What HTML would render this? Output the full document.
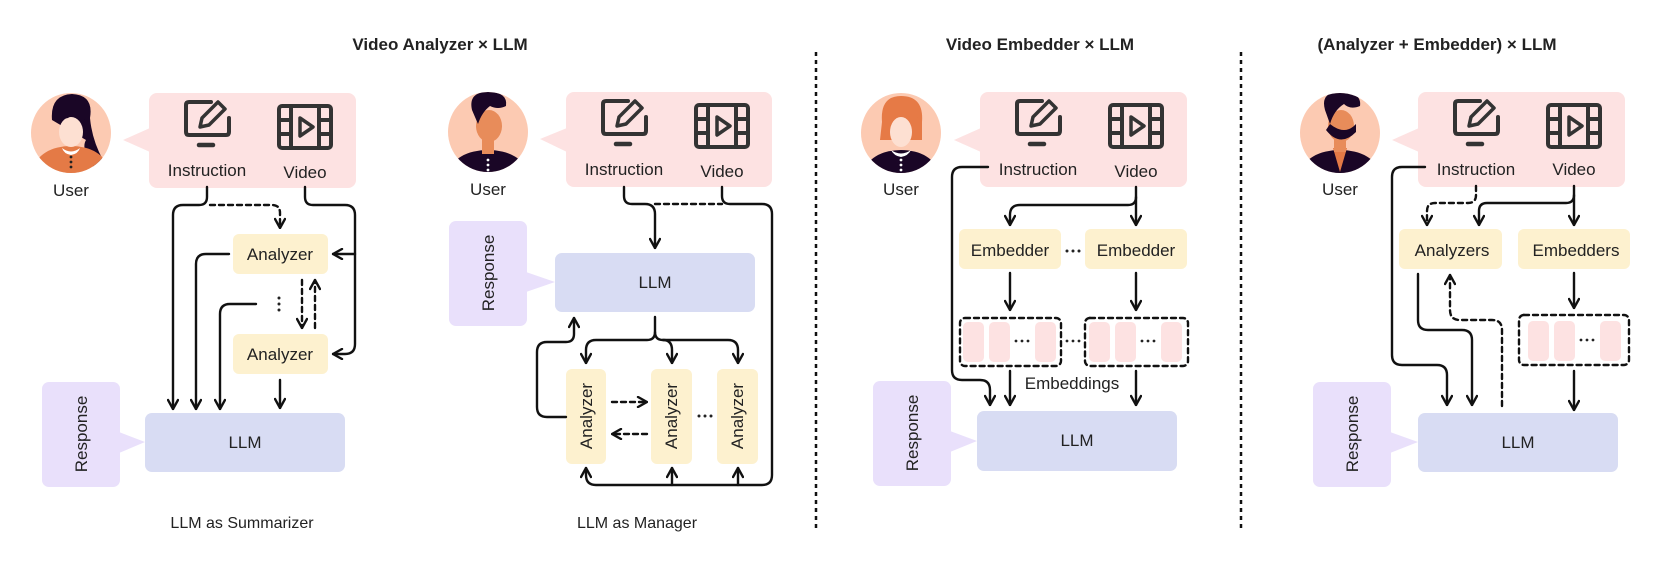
<!DOCTYPE html>
<html><head><meta charset="utf-8">
<style>
html,body{margin:0;padding:0;background:#fff;}
svg{display:block;}
text{font-family:"Liberation Sans",sans-serif;fill:#222;}
</style></head>
<body>
<svg width="1661" height="565" viewBox="0 0 1661 565" xmlns="http://www.w3.org/2000/svg">
<defs>
<marker id="a" viewBox="0 0 12 12" refX="11" refY="6" markerWidth="12" markerHeight="12" markerUnits="userSpaceOnUse" orient="auto">
<path d="M2,1 L11,6 L2,11" fill="none" stroke="#111" stroke-width="2.4" stroke-linecap="round" stroke-linejoin="round"/>
</marker>
<g id="ins" fill="none" stroke="#333" stroke-width="4" stroke-linecap="round" stroke-linejoin="round">
<path d="M4,-20 H-18 Q-21,-20 -21,-17 V10 Q-21,13 -18,13 H19 Q22,13 22,10 V-4"/>
<path d="M-7,5 L-5,-4 L11,-20 L18,-13 L2,3 Z" stroke-width="3.5"/>
<path d="M-8,23 H6" stroke-width="4.5"/>
</g>
<g id="vid" fill="none" stroke="#333" stroke-width="4" stroke-linejoin="round">
<rect x="-26" y="-21" width="52" height="42" rx="3"/>
<path d="M-14,-21 V21 M14,-21 V21 M-26,-7 H-14 M-26,7 H-14 M14,-7 H26 M14,7 H26"/>
<path d="M-5,-9 L8,0 L-5,9 Z" stroke-width="3.5"/>
</g>
<clipPath id="c1"><circle cx="71" cy="133" r="40"/></clipPath>
<clipPath id="c2"><circle cx="488" cy="132" r="40"/></clipPath>
<clipPath id="c3"><circle cx="901" cy="133" r="40"/></clipPath>
<clipPath id="c4"><circle cx="1340" cy="133" r="40"/></clipPath>
</defs>

<text x="440" y="50" font-size="17" font-weight="bold" text-anchor="middle">Video Analyzer × LLM</text>
<text x="1040" y="50" font-size="17" font-weight="bold" text-anchor="middle">Video Embedder × LLM</text>
<text x="1437" y="50" font-size="17" font-weight="bold" text-anchor="middle">(Analyzer + Embedder) × LLM</text>

<line x1="816" y1="52" x2="816" y2="530" stroke="#111" stroke-width="2.5" stroke-dasharray="4,4"/>
<line x1="1241" y1="52" x2="1241" y2="530" stroke="#111" stroke-width="2.5" stroke-dasharray="4,4"/>

<g stroke-linecap="round">
<!-- PANEL 1 -->
<circle cx="71" cy="133" r="40" fill="#fccab2"/>
<g clip-path="url(#c1)">
<path d="M52,120 Q50,95 72,94 Q94,95 90,118 Q92,140 103,160 L96,170 Q80,150 86,140 Z" fill="#1a0626"/>
<ellipse cx="71" cy="168" rx="36" ry="22" fill="#e47a46"/>
<ellipse cx="71" cy="132" rx="12" ry="15" fill="#fde0d2"/>
<path d="M55,105 Q70,92 87,108 L88,122 Q76,112 68,118 L58,120 Z" fill="#1a0626"/>
<path d="M62,148 Q71,155 80,148 Q78,154 71,155 Q64,154 62,148Z" fill="#fff"/>
<circle cx="71" cy="157" r="1.4" fill="#222"/><circle cx="71" cy="162" r="1.4" fill="#222"/><circle cx="71" cy="167" r="1.4" fill="#222"/>
</g>
<text x="71" y="196" font-size="17" text-anchor="middle">User</text>
<rect x="149" y="93" width="207" height="95" rx="8" fill="#fde2e2"/>
<path d="M150,128 L123,140 L150,152 Z" fill="#fde2e2"/>
<use href="#ins" x="207" y="122"/>
<use href="#vid" x="305" y="127"/>
<text x="207" y="176" font-size="17" text-anchor="middle">Instruction</text>
<text x="305" y="178" font-size="17" text-anchor="middle">Video</text>
<rect x="233" y="234" width="95" height="40" rx="6" fill="#fdf1cf"/>
<text x="280" y="260" font-size="17" text-anchor="middle">Analyzer</text>
<rect x="233" y="334" width="95" height="40" rx="6" fill="#fdf1cf"/>
<text x="280" y="360" font-size="17" text-anchor="middle">Analyzer</text>
<rect x="145" y="413" width="200" height="59" rx="7" fill="#d8dcf3"/>
<text x="245" y="448" font-size="17" text-anchor="middle">LLM</text>
<rect x="42" y="382" width="78" height="105" rx="7" fill="#e9e0fb"/>
<path d="M119,432 L145,442 L119,453 Z" fill="#e9e0fb"/>
<text transform="translate(87,434) rotate(-90)" font-size="17" text-anchor="middle">Response</text>
<g fill="none" stroke="#111" stroke-width="2.4">
<path d="M207,187 V197 Q207,205 199,205 H183 Q173,205 173,215 V409" marker-end="url(#a)"/>
<path d="M210,205 H272 Q280,205 280,213 V228" stroke-dasharray="5,4" marker-end="url(#a)"/>
<path d="M305,187 V197 Q305,205 313,205 H345 Q355,205 355,215 V344 Q355,354 345,354 H333" marker-end="url(#a)"/>
<path d="M355,254 H333" marker-end="url(#a)"/>
<path d="M229,254 H206 Q196,254 196,264 V409" marker-end="url(#a)"/>
<path d="M256,304 H230 Q220,304 220,314 V409" marker-end="url(#a)"/>
<path d="M280,380 V408" marker-end="url(#a)"/>
<path d="M302,280 V328" stroke-dasharray="5,4" marker-end="url(#a)"/>
<path d="M315,328 V280" stroke-dasharray="5,4" marker-end="url(#a)"/>
</g>
<circle cx="279" cy="298" r="1.5" fill="#222"/><circle cx="279" cy="304" r="1.5" fill="#222"/><circle cx="279" cy="310" r="1.5" fill="#222"/>
<text x="242" y="528" font-size="16" text-anchor="middle">LLM as Summarizer</text>

<!-- PANEL 2 -->
<circle cx="488" cy="132" r="40" fill="#fccab2"/>
<g clip-path="url(#c2)">
<ellipse cx="488" cy="172" rx="38" ry="22" fill="#1a0626"/>
<rect x="482" y="138" width="12" height="16" fill="#e88c5a"/>
<ellipse cx="489" cy="126" rx="13" ry="16" fill="#e88c5a"/>
<path d="M472,110 Q468,92 488,92 Q508,92 506,106 Q498,110 490,106 Q482,112 478,124 Z" fill="#1a0626"/>
<circle cx="488" cy="160" r="1.4" fill="#fff"/><circle cx="488" cy="165" r="1.4" fill="#fff"/><circle cx="488" cy="170" r="1.4" fill="#fff"/>
</g>
<text x="488" y="195" font-size="17" text-anchor="middle">User</text>
<rect x="566" y="92" width="206" height="95" rx="8" fill="#fde2e2"/>
<path d="M567,128 L540,139 L567,152 Z" fill="#fde2e2"/>
<use href="#ins" x="624" y="121"/>
<use href="#vid" x="722" y="126"/>
<text x="624" y="175" font-size="17" text-anchor="middle">Instruction</text>
<text x="722" y="177" font-size="17" text-anchor="middle">Video</text>
<rect x="449" y="221" width="78" height="105" rx="7" fill="#e9e0fb"/>
<path d="M526,272 L555,282 L526,292 Z" fill="#e9e0fb"/>
<text transform="translate(494,273) rotate(-90)" font-size="17" text-anchor="middle">Response</text>
<rect x="555" y="253" width="200" height="59" rx="7" fill="#d8dcf3"/>
<text x="655" y="288" font-size="17" text-anchor="middle">LLM</text>
<rect x="566" y="369" width="40" height="95" rx="6" fill="#fdf1cf"/>
<rect x="651" y="369" width="41" height="95" rx="6" fill="#fdf1cf"/>
<rect x="717" y="369" width="41" height="95" rx="6" fill="#fdf1cf"/>
<text transform="translate(592,416) rotate(-90)" font-size="17" text-anchor="middle">Analyzer</text>
<text transform="translate(677,416) rotate(-90)" font-size="17" text-anchor="middle">Analyzer</text>
<text transform="translate(743,416) rotate(-90)" font-size="17" text-anchor="middle">Analyzer</text>
<g fill="none" stroke="#111" stroke-width="2.4">
<path d="M624,187 V196 Q624,204 632,204 H645 Q655,204 655,214 V248" marker-end="url(#a)"/>
<path d="M655,204 H722" stroke-dasharray="5,4"/>
<path d="M722,187 V196 Q722,204 730,204 H762 Q772,204 772,214 V475 Q772,485 762,485 H596 Q586,485 586,475 V468" marker-end="url(#a)"/>
<path d="M672,485 V468" marker-end="url(#a)"/>
<path d="M738,485 V468" marker-end="url(#a)"/>
<path d="M655,317 V332 Q655,340 647,340 H596 Q586,340 586,350 V363" marker-end="url(#a)"/>
<path d="M655,332 Q655,340 663,340 Q672,340 672,350 V363" marker-end="url(#a)"/>
<path d="M663,340 H728 Q738,340 738,350 V363" marker-end="url(#a)"/>
<path d="M566,417 H547 Q537,417 537,407 V352 Q537,342 547,342 H566 Q574,342 574,334 V318" marker-end="url(#a)"/>
<path d="M612,402 H647" stroke-dasharray="5,4" marker-end="url(#a)"/>
<path d="M647,434 H612" stroke-dasharray="5,4" marker-end="url(#a)"/>
</g>
<circle cx="699" cy="416" r="1.5" fill="#222"/><circle cx="705" cy="416" r="1.5" fill="#222"/><circle cx="711" cy="416" r="1.5" fill="#222"/>
<text x="637" y="528" font-size="16" text-anchor="middle">LLM as Manager</text>

<!-- PANEL 3 -->
<circle cx="901" cy="133" r="40" fill="#fccab2"/>
<g clip-path="url(#c3)">
<ellipse cx="901" cy="172" rx="36" ry="22" fill="#1a0626"/>
<path d="M882,122 Q880,96 901,96 Q924,96 922,122 L922,140 L880,140 Z" fill="#e67a46"/>
<ellipse cx="901" cy="132" rx="11" ry="15" fill="#fde0d2"/>
<path d="M886,110 Q900,96 918,110 L918,118 Q905,108 886,118 Z" fill="#e67a46"/>
<path d="M891,150 Q901,157 911,150 Q908,156 901,157 Q894,156 891,150Z" fill="#fff"/>
<circle cx="901" cy="160" r="1.4" fill="#fff"/><circle cx="901" cy="165" r="1.4" fill="#fff"/><circle cx="901" cy="170" r="1.4" fill="#fff"/>
</g>
<text x="901" y="195" font-size="17" text-anchor="middle">User</text>
<rect x="980" y="92" width="207" height="95" rx="8" fill="#fde2e2"/>
<path d="M981,128 L954,140 L981,152 Z" fill="#fde2e2"/>
<use href="#ins" x="1038" y="121"/>
<use href="#vid" x="1136" y="126"/>
<text x="1038" y="175" font-size="17" text-anchor="middle">Instruction</text>
<text x="1136" y="177" font-size="17" text-anchor="middle">Video</text>
<rect x="959" y="229" width="102" height="40" rx="6" fill="#fdf1cf"/>
<rect x="1085" y="229" width="102" height="40" rx="6" fill="#fdf1cf"/>
<text x="1010" y="256" font-size="17" text-anchor="middle">Embedder</text>
<text x="1136" y="256" font-size="17" text-anchor="middle">Embedder</text>
<circle cx="1067" cy="251" r="1.5" fill="#222"/><circle cx="1073" cy="251" r="1.5" fill="#222"/><circle cx="1079" cy="251" r="1.5" fill="#222"/>
<g fill="#fde2e2">
<rect x="963" y="322" width="21" height="40" rx="5"/><rect x="989" y="322" width="21" height="40" rx="5"/><rect x="1035" y="322" width="21" height="40" rx="5"/>
<rect x="1089" y="322" width="21" height="40" rx="5"/><rect x="1115" y="322" width="21" height="40" rx="5"/><rect x="1161" y="322" width="21" height="40" rx="5"/>
</g>
<g fill="none" stroke="#111" stroke-width="2.4" stroke-dasharray="5,4">
<rect x="960" y="318" width="101" height="48" rx="5"/>
<rect x="1085" y="318" width="103" height="48" rx="5"/>
</g>
<g fill="#222">
<circle cx="1016" cy="341" r="1.4"/><circle cx="1022" cy="341" r="1.4"/><circle cx="1028" cy="341" r="1.4"/>
<circle cx="1067" cy="341" r="1.4"/><circle cx="1073" cy="341" r="1.4"/><circle cx="1079" cy="341" r="1.4"/>
<circle cx="1142" cy="341" r="1.4"/><circle cx="1148" cy="341" r="1.4"/><circle cx="1154" cy="341" r="1.4"/>
</g>
<text x="1072" y="389" font-size="17" text-anchor="middle">Embeddings</text>
<rect x="977" y="411" width="200" height="60" rx="7" fill="#d8dcf3"/>
<text x="1077" y="446" font-size="17" text-anchor="middle">LLM</text>
<rect x="873" y="381" width="78" height="105" rx="7" fill="#e9e0fb"/>
<path d="M950,431 L977,441 L950,452 Z" fill="#e9e0fb"/>
<text transform="translate(918,433) rotate(-90)" font-size="17" text-anchor="middle">Response</text>
<g fill="none" stroke="#111" stroke-width="2.4">
<path d="M988,167 H962 Q952,167 952,177 V370 Q952,380 962,380 H980 Q990,380 990,390 V405" marker-end="url(#a)"/>
<path d="M1136,187 V225" marker-end="url(#a)"/>
<path d="M1136,197 Q1136,205 1128,205 H1020 Q1010,205 1010,215 V225" marker-end="url(#a)"/>
<path d="M1010,273 V310" marker-end="url(#a)"/>
<path d="M1136,273 V310" marker-end="url(#a)"/>
<path d="M1010,371 V405" marker-end="url(#a)"/>
<path d="M1136,371 V405" marker-end="url(#a)"/>
</g>

<!-- PANEL 4 -->
<circle cx="1340" cy="133" r="40" fill="#fccab2"/>
<g clip-path="url(#c4)">
<ellipse cx="1340" cy="172" rx="38" ry="22" fill="#1a0626"/>
<path d="M1333,148 L1340,172 L1347,148 Z" fill="#e47a46"/>
<rect x="1334" y="138" width="12" height="14" fill="#e88c5a"/>
<ellipse cx="1341" cy="126" rx="13" ry="16" fill="#e88c5a"/>
<path d="M1326,130 Q1340,148 1356,132 L1356,124 Q1345,136 1330,124 Z" fill="#1a0626"/>
<path d="M1325,110 Q1320,92 1340,92 Q1362,92 1360,106 Q1350,110 1344,104 Q1334,110 1330,124 Z" fill="#1a0626"/>
</g>
<text x="1340" y="195" font-size="17" text-anchor="middle">User</text>
<rect x="1418" y="92" width="207" height="95" rx="8" fill="#fde2e2"/>
<path d="M1419,128 L1392,140 L1419,152 Z" fill="#fde2e2"/>
<use href="#ins" x="1476" y="121"/>
<use href="#vid" x="1574" y="126"/>
<text x="1476" y="175" font-size="17" text-anchor="middle">Instruction</text>
<text x="1574" y="175" font-size="17" text-anchor="middle">Video</text>
<rect x="1399" y="229" width="103" height="40" rx="6" fill="#fdf1cf"/>
<rect x="1518" y="229" width="112" height="40" rx="6" fill="#fdf1cf"/>
<text x="1452" y="256" font-size="17" text-anchor="middle">Analyzers</text>
<text x="1576" y="256" font-size="17" text-anchor="middle">Embedders</text>
<g fill="#fde2e2">
<rect x="1528" y="321" width="21" height="40" rx="5"/><rect x="1554" y="321" width="21" height="40" rx="5"/><rect x="1600" y="321" width="21" height="40" rx="5"/>
</g>
<rect x="1519" y="315" width="110" height="50" rx="5" fill="none" stroke="#111" stroke-width="2.4" stroke-dasharray="5,4"/>
<g fill="#222"><circle cx="1581" cy="340" r="1.4"/><circle cx="1587" cy="340" r="1.4"/><circle cx="1593" cy="340" r="1.4"/></g>
<rect x="1418" y="413" width="200" height="59" rx="7" fill="#d8dcf3"/>
<text x="1518" y="448" font-size="17" text-anchor="middle">LLM</text>
<rect x="1313" y="382" width="78" height="105" rx="7" fill="#e9e0fb"/>
<path d="M1390,432 L1418,442 L1390,453 Z" fill="#e9e0fb"/>
<text transform="translate(1358,434) rotate(-90)" font-size="17" text-anchor="middle">Response</text>
<g fill="none" stroke="#111" stroke-width="2.4">
<path d="M1425,167 H1402 Q1392,167 1392,177 V355 Q1392,365 1402,365 H1437 Q1447,365 1447,375 V405" marker-end="url(#a)"/>
<path d="M1476,186 V195 Q1476,203 1468,203 H1435 Q1427,203 1427,211 V225" stroke-dasharray="5,4" marker-end="url(#a)"/>
<path d="M1574,186 V225" marker-end="url(#a)"/>
<path d="M1574,195 Q1574,203 1566,203 H1487 Q1479,203 1479,211 V225" marker-end="url(#a)"/>
<path d="M1418,274 V320 Q1418,330 1428,330 H1462 Q1472,330 1472,340 V405" marker-end="url(#a)"/>
<path d="M1502,406 V330 Q1502,320 1492,320 H1460 Q1450,320 1450,310 V275" stroke-dasharray="5,4" marker-end="url(#a)"/>
<path d="M1574,273 V308" marker-end="url(#a)"/>
<path d="M1574,371 V410" marker-end="url(#a)"/>
</g>
</g>
</svg>
</body></html>
